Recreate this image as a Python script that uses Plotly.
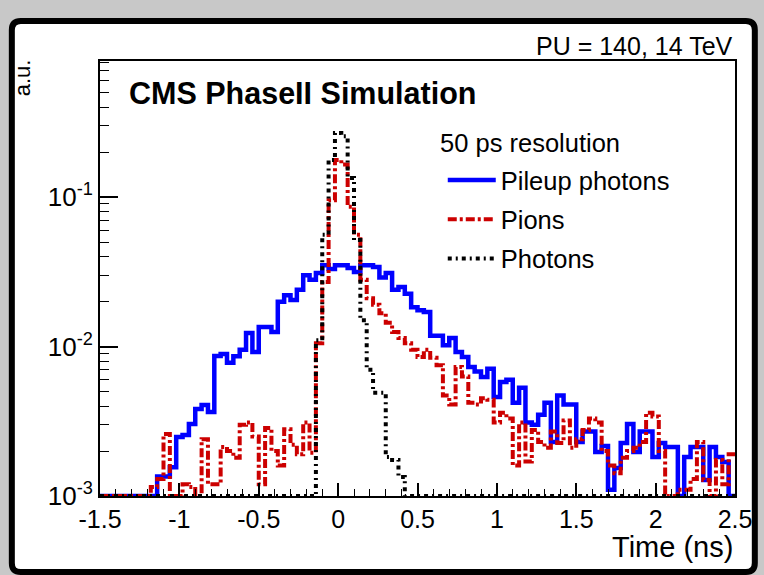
import numpy as np
import plotly.graph_objects as go

# ---------------- data (100 bins of 0.04 ns from -1.5 to 2.5 ns) ----------------
t_min, t_max, n_bins = -1.5, 2.5, 100

pileup_photons = [
    0, 0, 0, 0, 0, 0, 0, 0, 0, 1.35e-3,
    1.35e-3, 1.56e-3, 2.48e-3, 2.56e-3, 3.03e-3, 3.82e-3, 4.06e-3, 3.65e-3, 8.63e-3, 8.9e-3,
    7.8e-3, 8.6e-3, 9.5e-3, 1.23e-2, 9.2e-3, 1.35e-2, 1.35e-2, 1.25e-2, 1.99e-2, 2.2e-2,
    2.05e-2, 2.4e-2, 3.0e-2, 2.8e-2, 3.1e-2, 3.5e-2, 3.3e-2, 3.5e-2, 3.5e-2, 3.35e-2,
    3.15e-2, 3.5e-2, 3.5e-2, 3.4e-2, 2.9e-2, 3.1e-2, 2.4e-2, 2.5e-2, 2.25e-2, 1.83e-2,
    1.75e-2, 1.7e-2, 1.18e-2, 1.18e-2, 1.02e-2, 1.14e-2, 9.2e-3, 8.5e-3, 7.3e-3, 6.8e-3,
    6.25e-3, 7.1e-3, 4.6e-3, 5.8e-3, 6.0e-3, 4.2e-3, 5.3e-3, 3.1e-3, 3.0e-3, 3.5e-3,
    4.2e-3, 2.3e-3, 4.7e-3, 4.1e-3, 4.1e-3, 2.3e-3, 2.7e-3, 2.7e-3, 1.97e-3, 2.16e-3,
    1.1e-3, 1.54e-3, 2.26e-3, 3.03e-3, 1.97e-3, 2.7e-3, 2.7e-3, 1.82e-3, 2.26e-3, 2.13e-3,
    2.13e-3, 0, 1.82e-3, 2.13e-3, 2.13e-3, 1.28e-3, 2.13e-3, 1.82e-3, 1.69e-3, 0,
]

pions = [
    0, 0, 0, 0, 0, 0, 0, 0, 1.15e-3, 1.3e-3,
    2.6e-3, 0, 0, 1.2e-3, 1.15e-3, 0, 2.4e-3, 1.2e-3, 1.2e-3, 2.13e-3,
    2.0e-3, 1.8e-3, 3.0e-3, 3.1e-3, 2.5e-3, 1.2e-3, 2.85e-3, 2.0e-3, 1.6e-3, 2.8e-3,
    2.2e-3, 1.9e-3, 3.1e-3, 1.95e-3, 1.05e-2, 2.7e-2, 9.5e-2, 1.77e-1, 1.65e-1, 8.6e-2,
    5.6e-2, 2.8e-2, 2.1e-2, 1.9e-2, 1.67e-2, 1.44e-2, 1.25e-2, 1.14e-2, 1.05e-2, 9.5e-3,
    8.5e-3, 9.5e-3, 8.4e-3, 7.5e-3, 4.7e-3, 4.1e-3, 7.3e-3, 6.3e-3, 4.2e-3, 4.1e-3,
    4.5e-3, 4.4e-3, 3.1e-3, 3.6e-3, 3.3e-3, 1.6e-3, 3.1e-3, 1.7e-3, 2.76e-3, 2.3e-3,
    2.1e-3, 2.7e-3, 2.26e-3, 3.2e-3, 2.1e-3, 2.4e-3, 2.76e-3, 3.3e-3, 3.1e-3, 2.0e-3,
    1.6e-3, 1.42e-3, 1.8e-3, 2.0e-3, 2.1e-3, 2.3e-3, 3.6e-3, 3.4e-3, 2.0e-3, 0,
    0, 1.1e-3, 1.1e-3, 1.3e-3, 2.3e-3, 1.28e-3, 0, 1.74e-3, 1.2e-3, 1.9e-3,
]

photons = [0] * 34 + [
    1.1e-2, 5.6e-2, 1.77e-1, 2.68e-1, 2.55e-1, 1.34e-1, 5.15e-2, 1.5e-2, 7.0e-3, 4.9e-3,
    4.9e-3, 1.82e-3, 1.74e-3, 1.34e-3,
] + [0] * 52

series_names = ["Pileup photons", "Pions", "Photons"]
x_tick_vals = [-1.5, -1, -0.5, 0, 0.5, 1, 1.5, 2, 2.5]
x_tick_text = ["-1.5", "-1", "-0.5", "0", "0.5", "1", "1.5", "2", "2.5"]
y_tick_vals = [1e-3, 1e-2, 1e-1]
y_tick_text = ["10<sup>-3</sup>", "10<sup>-2</sup>", "10<sup>-1</sup>"]

# ---------------- styling ----------------
W, H = 764, 575
L, R, T, B = 100, 741, 61, 496          # plot frame in pixels
Y_LOG_MIN, Y_LOG_MAX = -3.0, -0.09
FONT = "Liberation Sans, Arial, Helvetica, sans-serif"


def xp(px):
    return (px - L) / (R - L)


def yp(py):
    return (B - py) / (B - T)


edges = np.linspace(t_min, t_max, n_bins + 1)
floor = 10 ** Y_LOG_MIN


def step_xy(vals):
    v = np.maximum(np.asarray(vals, dtype=float), floor)
    return edges, np.append(v, v[-1])


fig = go.Figure()
styles = [
    dict(color="#0000ff", width=4.5, dash="solid"),
    dict(color="#cc0000", width=4, dash="9px,3px,3px,3px"),
    dict(color="#000000", width=4, dash="4px,4px,2px,4px"),
]
for name, vals, st in zip(series_names, [pileup_photons, pions, photons], styles):
    x, y = step_xy(vals)
    fig.add_trace(go.Scatter(
        x=x, y=y, mode="lines", name=name, line_shape="hv",
        line=st, legendgroup=name, hoverinfo="skip",
    ))

# rounded outer frame (white panel with thick black border)
x0, x1, y0, y1, r = 11, 761, 21, 572, 9
path = (
    f"M {xp(x0 + r)} {yp(y0)} L {xp(x1 - r)} {yp(y0)} Q {xp(x1)} {yp(y0)} {xp(x1)} {yp(y0 + r)} "
    f"L {xp(x1)} {yp(y1 - r)} Q {xp(x1)} {yp(y1)} {xp(x1 - r)} {yp(y1)} "
    f"L {xp(x0 + r)} {yp(y1)} Q {xp(x0)} {yp(y1)} {xp(x0)} {yp(y1 - r)} "
    f"L {xp(x0)} {yp(y0 + r)} Q {xp(x0)} {yp(y0)} {xp(x0 + r)} {yp(y0)} Z"
)
fig.add_shape(type="path", path=path, xref="paper", yref="paper",
              fillcolor="white", line=dict(color="black", width=6), layer="below")

fig.update_layout(
    autosize=True,
    margin=dict(l=L, r=W - R, t=T, b=H - B, pad=0),
    paper_bgcolor="#c8c8c8", plot_bgcolor="white",
    font=dict(family=FONT, size=25, color="black"),
    showlegend=True,
    legend=dict(
        x=xp(446), y=yp(157), xanchor="left", yanchor="top",
        bgcolor="rgba(0,0,0,0)", borderwidth=0,
        font=dict(size=25.5), tracegroupgap=3, itemwidth=48,
    ),
    xaxis=dict(
        range=[t_min, t_max], tickmode="array", tickvals=x_tick_vals, ticktext=x_tick_text,
        ticks="inside", ticklen=13, tickwidth=1.5, tickcolor="black",
        minor=dict(ticks="inside", ticklen=7, dtick=0.1, tickcolor="black", tickwidth=1.2, showgrid=False),
        showline=True, linecolor="black", linewidth=2, mirror=True,
        showgrid=False, zeroline=False, tickfont=dict(size=25),
    ),
    yaxis=dict(
        type="log", range=[Y_LOG_MIN, Y_LOG_MAX], tickmode="array",
        tickvals=y_tick_vals, ticktext=y_tick_text,
        ticks="inside", ticklen=18, tickwidth=1.5, tickcolor="black",
        minor=dict(ticks="inside", ticklen=9, dtick="D1", tickcolor="black", tickwidth=1.2, showgrid=False),
        showline=True, linecolor="black", linewidth=2, mirror=True,
        showgrid=False, zeroline=False, tickfont=dict(size=26),
    ),
    annotations=[
        dict(text="PU = 140, 14 TeV", x=1, y=yp(46), xref="paper", yref="paper",
             xanchor="right", yanchor="middle", showarrow=False, font=dict(size=25)),
        dict(text="a.u.", x=xp(22), y=yp(57), xref="paper", yref="paper",
             xanchor="center", yanchor="top", textangle=-90, showarrow=False, font=dict(size=22)),
        dict(text="<b>CMS PhaseII Simulation</b>", x=xp(127), y=yp(93), xref="paper", yref="paper",
             xanchor="left", yanchor="middle", showarrow=False, font=dict(size=30.5)),
        dict(text="50 ps resolution", x=xp(441), y=yp(143), xref="paper", yref="paper",
             xanchor="left", yanchor="middle", showarrow=False, font=dict(size=25.5)),
        dict(text="Time (ns)", x=1, y=yp(547), xref="paper", yref="paper",
             xanchor="right", yanchor="middle", showarrow=False, font=dict(size=29)),
    ],
)

fig.write_html(
    "out.html",
    config={"displayModeBar": False, "responsive": True},
    default_width="100vw",
    default_height="100vh",
    post_script=(
        "document.documentElement.style.overflow='hidden';"
        "document.body.style.overflow='hidden';"
        "document.body.style.margin='0px';"
        "document.body.style.background='#c8c8c8';"
    ),
)
